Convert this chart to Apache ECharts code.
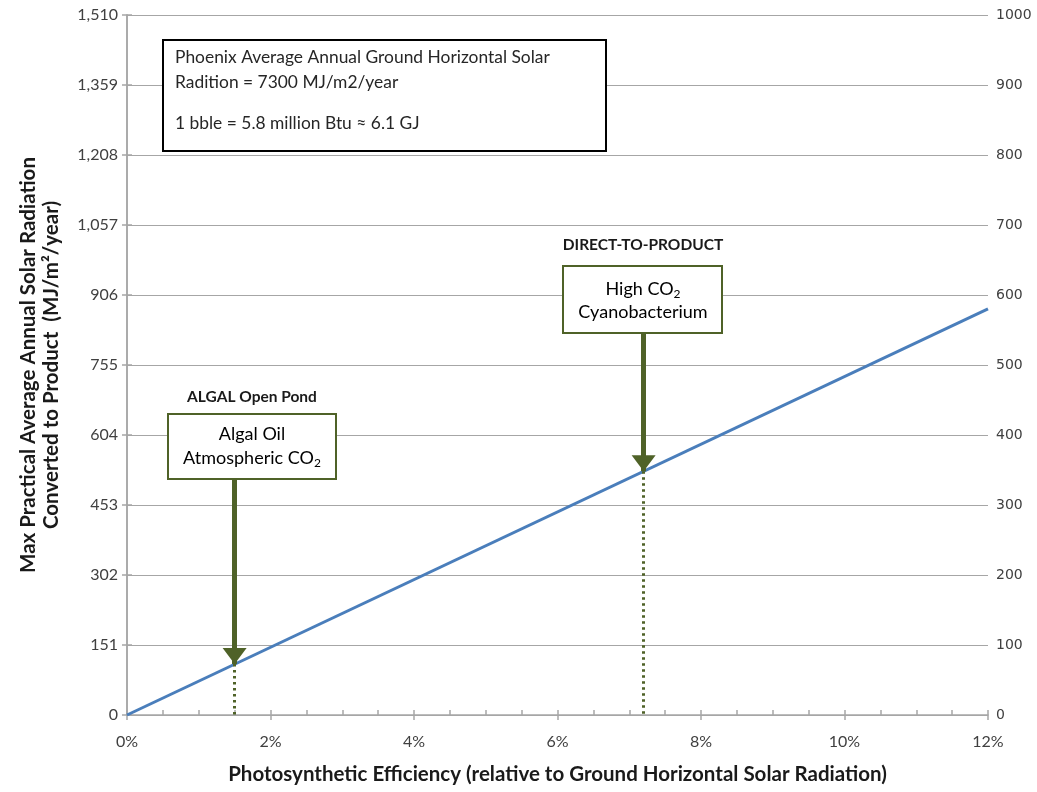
<!DOCTYPE html>
<html>
<head>
<meta charset="utf-8">
<script src="https://cdn.jsdelivr.net/npm/echarts@6/dist/echarts.min.js"></script>
<style>
html,body{margin:0;padding:0;background:#fff;}
#c{width:1037px;height:792px;}
</style>
</head>
<body>
<div id="c"></div>
<script>
// ---- data ----
var lineX = [0, 12];                 // photosynthetic efficiency (%)
var lineY = [0, 876];                // MJ/m2/year converted to product
var leftTicks = [0, 151, 302, 453, 604, 755, 906, 1057, 1208, 1359, 1510];
var rightTicks = [0, 100, 200, 300, 400, 500, 600, 700, 800, 900, 1000];
var annoNames = ['ALGAL Open Pond', 'DIRECT-TO-PRODUCT'];
var annoX = [1.5, 7.2];              // efficiency at arrow
var annoY = [110, 526];              // value on the line at arrow
var annoStartY = [509, 824];         // arrow start (box bottom), left-axis units

var FONT = 'Lato, "Liberation Sans", sans-serif';
var OLIVE = '#4f6228';
var GRID = '#a6a6a6';

var chart = echarts.init(document.getElementById('c'));

var linePts = lineX.map(function (x, i) { return [x, lineY[i]]; });

var arrowLines = [], dotLines = [];
annoX.forEach(function (x, i) {
  arrowLines.push([{ coord: [x, annoStartY[i]] }, { coord: [x, annoY[i]] }]);
  dotLines.push([{ coord: [x, annoY[i]] }, { coord: [x, 0] }]);
});

var option = {
  animation: false,
  backgroundColor: '#fff',
  grid: { left: 127, right: 49, top: 15, bottom: 77, containLabel: false },
  xAxis: [{
    type: 'value', min: 0, max: 12, interval: 2,
    axisLine: { show: true, lineStyle: { color: GRID, width: 1.5 } },
    axisTick: { show: true, length: 5, lineStyle: { color: GRID, width: 1.5 } },
    axisLabel: { formatter: '{value}%', color: '#404040', fontSize: 16, fontFamily: FONT, margin: 19 },
    splitLine: { show: false },
    name: 'Photosynthetic Efficiency (relative to Ground Horizontal Solar Radiation)',
    nameLocation: 'middle', nameGap: 49,
    nameTextStyle: { fontSize: 20.5, fontWeight: 'bold', color: '#1a1a1a', fontFamily: FONT }
  }, {
    type: 'value', min: 0, max: 12, interval: 0.5, position: 'bottom',
    axisLine: { show: false },
    axisTick: { show: true, inside: true, length: 5, lineStyle: { color: GRID, width: 1.5 } },
    axisLabel: { show: false },
    splitLine: { show: false }
  }],
  yAxis: [{
    type: 'value', min: leftTicks[0], max: leftTicks[leftTicks.length - 1], interval: 151,
    axisLine: { show: true, lineStyle: { color: GRID, width: 1.5 } },
    axisTick: { show: true, length: 5, lineStyle: { color: GRID, width: 1.5 } },
    axisLabel: {
      color: '#404040', fontSize: 16, fontFamily: FONT, margin: 9,
      formatter: function (v) { return Math.round(v).toLocaleString('en-US'); }
    },
    splitLine: { show: true, lineStyle: { color: GRID, width: 1.2 } },
    name: 'Max Practical Average Annual Solar Radiation\nConverted to Product  (MJ/m²/year)',
    nameLocation: 'middle', nameGap: 64, nameRotate: 90,
    nameTextStyle: { fontSize: 20.5, fontWeight: 'bold', color: '#1a1a1a', fontFamily: FONT, lineHeight: 23 }
  }, {
    type: 'value', min: rightTicks[0], max: rightTicks[rightTicks.length - 1], interval: 100,
    position: 'right',
    axisLine: { show: true, lineStyle: { color: GRID, width: 1.5 } },
    axisTick: { show: true, length: 5, lineStyle: { color: GRID, width: 1.5 } },
    axisLabel: { color: '#404040', fontSize: 14, fontFamily: '"DejaVu Sans", sans-serif', margin: 8,
      formatter: function (v) { return String(v); } },
    splitLine: { show: false }
  }],
  series: [{
    type: 'line',
    data: linePts,
    xAxisIndex: 0, yAxisIndex: 0,
    symbol: 'none',
    lineStyle: { color: '#4a7ebb', width: 3 },
    z: 3,
    markLine: {
      silent: true,
      symbol: ['none', 'none'],
      label: { show: false },
      lineStyle: { color: OLIVE, width: 3, type: [2.5, 3.5] },
      data: dotLines
    }
  }, {
    type: 'line',
    data: [],
    xAxisIndex: 0, yAxisIndex: 0,
    z: 4,
    markLine: {
      silent: true,
      symbol: ['none', 'triangle'],
      symbolSize: [24, 16],
      symbolOffset: [0, [0, 8]],
      label: { show: false },
      lineStyle: { color: OLIVE, width: 5, type: 'solid' },
      itemStyle: { color: OLIVE },
      data: arrowLines
    }
  }]
};

chart.setOption(option);

// annotation boxes (layout)
var rich = {
  n: { fontSize: 18, fontFamily: FONT, color: '#262626' },
  s: { fontSize: 12, fontFamily: FONT, color: '#262626', padding: [10, 0, 0, 0] }
};
function rect(x, y, w, h, stroke) {
  return { type: 'rect', z: 100, shape: { x: x, y: y, width: w, height: h },
    style: { fill: '#fff', stroke: stroke, lineWidth: 2 } };
}
function txt(x, y, text, font, align) {
  return { type: 'text', z: 101, x: x, y: y,
    style: { text: text, font: font, fill: '#262626', textAlign: align || 'left', textVerticalAlign: 'middle' } };
}
function rtxt(x, y, text) {
  return { type: 'text', z: 101, x: x, y: y,
    style: { text: text, rich: rich, textAlign: 'center', textVerticalAlign: 'middle' } };
}
var NOTE = '17.4px ' + FONT;
var graphics = [
  rect(163, 40, 443, 111, '#000'),
  txt(175, 57, 'Phoenix Average Annual Ground Horizontal Solar', NOTE),
  txt(175, 82, 'Radition = 7300 MJ/m2/year', NOTE),
  txt(175, 123, '1 bble = 5.8 million Btu \u2248 6.1 GJ', NOTE),

  rect(168, 414, 168, 65, OLIVE),
  rtxt(252, 434, '{n|Algal Oil}'),
  rtxt(252, 458, '{n|Atmospheric CO}{s|2}'),

  rect(563, 266, 159, 67, OLIVE),
  rtxt(643, 289, '{n|High CO}{s|2}'),
  rtxt(643, 312, '{n|Cyanobacterium}'),

  { type: 'text', z: 101, x: 252, y: 397, style: { text: annoNames[0], font: 'bold 15.5px ' + FONT,
      fill: '#1a1a1a', textAlign: 'center', textVerticalAlign: 'middle' } },
  { type: 'text', z: 101, x: 643, y: 245, style: { text: annoNames[1], font: 'bold 15.5px ' + FONT,
      fill: '#1a1a1a', textAlign: 'center', textVerticalAlign: 'middle' } }
];

chart.setOption({ graphic: graphics });
</script>
</body>
</html>
